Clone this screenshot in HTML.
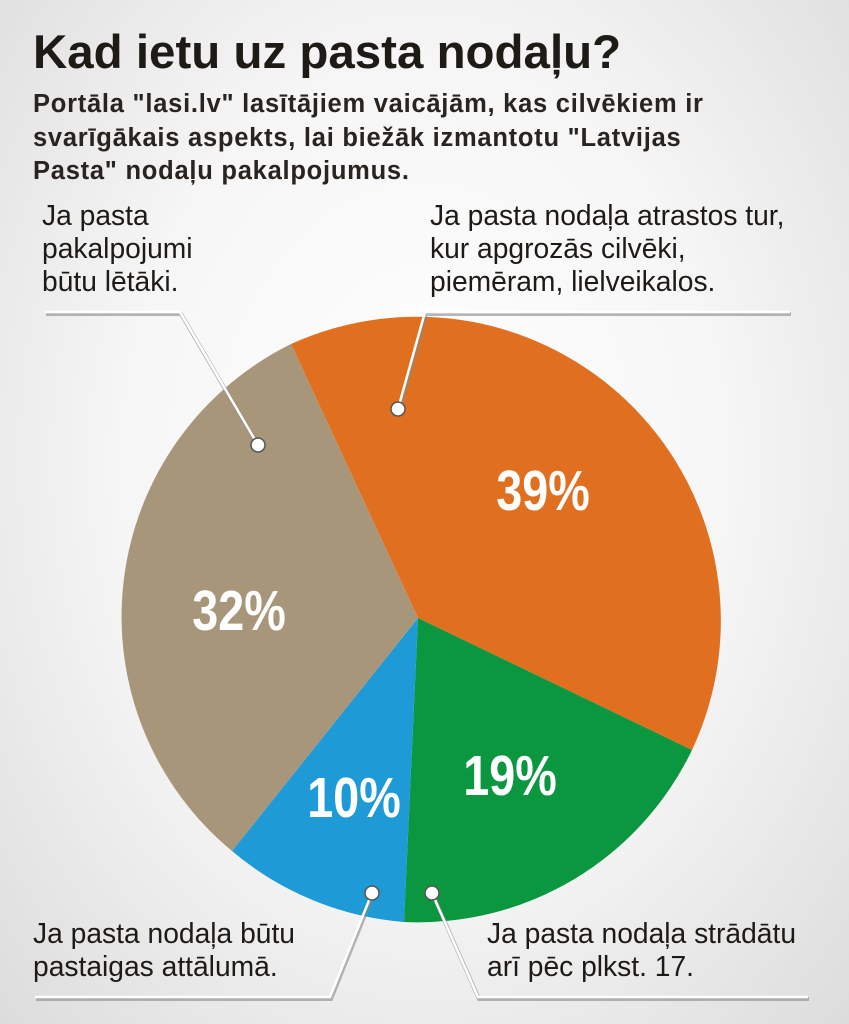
<!DOCTYPE html>
<html><head><meta charset="utf-8"><style>
body{margin:0;width:849px;height:1024px;overflow:hidden;background:radial-gradient(ellipse at 50% 45%,#ffffff 0%,#f6f6f6 50%,#dcdcdc 100%);font-family:"Liberation Sans",sans-serif;color:#1e1a16;position:relative}
.t{position:absolute;left:33px;top:24px;font-size:47px;font-weight:bold;transform:scaleX(1.01);transform-origin:left;white-space:nowrap}
.s{position:absolute;left:33px;top:88px;font-size:25.5px;font-weight:bold;color:#2a2420;line-height:33.5px;letter-spacing:0.75px;white-space:nowrap}
.l{position:absolute;font-size:28.5px;line-height:33px;transform:scaleX(0.99);transform-origin:left;white-space:nowrap}
</style></head><body>
<div class="t">Kad ietu uz pasta nodaļu?</div>
<div class="s">Portāla "lasi.lv" lasītājiem vaicājām, kas cilvēkiem ir<br>svarīgākais aspekts, lai biežāk izmantotu "Latvijas<br>Pasta" nodaļu pakalpojumus.</div>
<div class="l" style="left:42px;top:200px">Ja pasta<br>pakalpojumi<br>būtu lētāki.</div>
<div class="l" style="left:430px;top:200px">Ja pasta nodaļa atrastos tur,<br>kur apgrozās cilvēki,<br>piemēram, lielveikalos.</div>
<div class="l" style="left:33px;top:918px">Ja pasta nodaļa būtu<br>pastaigas attālumā.</div>
<div class="l" style="left:487px;top:918px">Ja pasta nodaļa strādātu<br>arī pēc plkst. 17.</div>
<svg width="849" height="1024" style="position:absolute;left:0;top:0">
<path d="M418,618 L291,344 A304,304 0 0 1 692,750 Z" fill="#e0701f"/>
<path d="M418,618 L692,750 A304,304 0 0 1 404,922 Z" fill="#0b9640"/>
<path d="M418,618 L404,922 A304,304 0 0 1 232,851 Z" fill="#1e9ad6"/>
<path d="M418,618 L232,851 A304,304 0 0 1 291,344 Z" fill="#a8967a"/>
<g fill="none" stroke="#888" stroke-width="4" opacity="0.6" transform="translate(1,2)">
<polyline points="45,312 180,312 258,445"/><polyline points="790,312 425,312 398,409"/>
<polyline points="372,893 330,997 35,997"/><polyline points="432,893 478,997 808,997"/></g>
<g fill="none" stroke="#fff" stroke-width="2.5">
<polyline points="45,312 180,312 258,445"/><polyline points="790,312 425,312 398,409"/>
<polyline points="372,893 330,997 35,997"/><polyline points="432,893 478,997 808,997"/></g>
<g fill="#fff" stroke="#555" stroke-width="1.5">
<circle cx="258" cy="445" r="7"/><circle cx="398" cy="409" r="7"/><circle cx="372" cy="893" r="7"/><circle cx="432" cy="893" r="7"/></g>
<g fill="#fff" font-family="Liberation Sans,sans-serif" font-weight="bold" font-size="57" text-anchor="middle">
<text x="543" y="510" transform="translate(543,0) scale(0.82,1) translate(-543,0)">39%</text>
<text x="239" y="630" transform="translate(239,0) scale(0.82,1) translate(-239,0)">32%</text>
<text x="510" y="795" transform="translate(510,0) scale(0.82,1) translate(-510,0)">19%</text>
<text x="354" y="817" transform="translate(354,0) scale(0.82,1) translate(-354,0)">10%</text>
</g></svg>
</body></html>
